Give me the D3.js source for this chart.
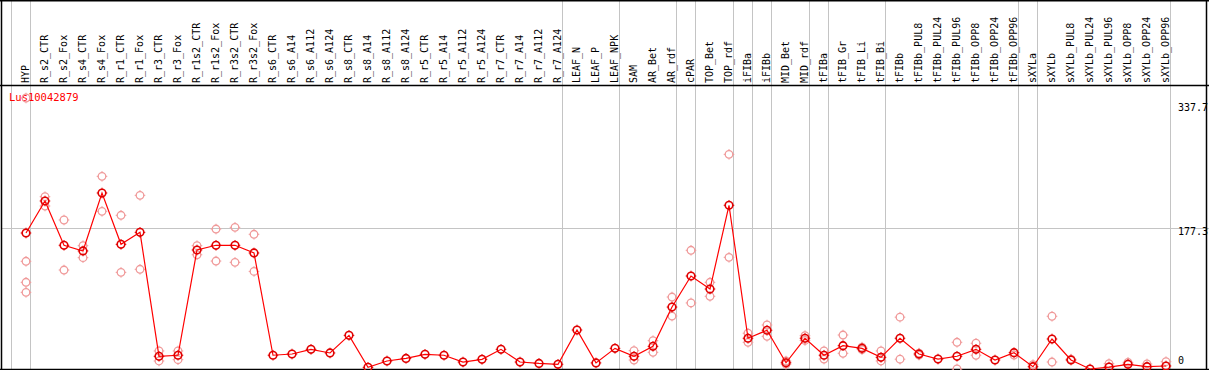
<!DOCTYPE html>
<html><head><meta charset="utf-8">
<script src="https://cdn.jsdelivr.net/npm/d3@7"></script>
<style>html,body{margin:0;padding:0;background:#fff;overflow:hidden}</style>
</head><body>
<svg id="c" width="1209" height="370"></svg>
<script>
const categories = ["HYP","R_s2_CTR","R_s2_Fox","R_s4_CTR","R_s4_Fox","R_r1_CTR","R_r1_Fox","R_r3_CTR","R_r3_Fox","R_r1s2_CTR","R_r1s2_Fox","R_r3s2_CTR","R_r3s2_Fox","R_s6_CTR","R_s6_A14","R_s6_A112","R_s6_A124","R_s8_CTR","R_s8_A14","R_s8_A112","R_s8_A124","R_r5_CTR","R_r5_A14","R_r5_A112","R_r5_A124","R_r7_CTR","R_r7_A14","R_r7_A112","R_r7_A124","LEAF_N","LEAF_P","LEAF_NPK","SAM","AR_Bet","AR_rdf","cPAR","TOP_Bet","TOP_rdf","iFIBa","iFIBb","MID_Bet","MID_rdf","tFIBa","tFIB_Gr","tFIB_Li","tFIB_Bi","tFIBb","tFIBb_PUL8","tFIBb_PUL24","tFIBb_PUL96","tFIBb_OPP8","tFIBb_OPP24","tFIBb_OPP96","sXYLa","sXYLb","sXYLb_PUL8","sXYLb_PUL24","sXYLb_PUL96","sXYLb_OPP8","sXYLb_OPP24","sXYLb_OPP96"];
const means = [170.7,210.3,155.5,148.5,220.2,156.7,171.5,18.2,19.5,149.7,155.5,155.5,146.0,19.5,21.0,26.8,22.3,44.1,4.5,12.4,15.6,20.6,19.5,11.1,14.4,26.8,11.1,9.4,8.3,50.7,10.0,28.0,18.2,30.5,79.1,117.5,101.4,205.0,40.5,50.4,10.2,40.5,19.5,31.3,28.0,16.9,40.5,21.0,14.8,18.2,26.8,13.6,22.7,5.3,39.6,13.6,2.5,4.9,8.3,5.3,6.2];
const replicates = [[337.7,135.7,109.7,97.3],[215.6,204.1],[186.8,124.9],[155.0,140.2],[240.8,197.5],[192.6,122.0],[217.3,125.8],[24.8,12.4],[24.8,14.0],[155.0,143.8],[175.6,136.0],[177.7,134.4],[169.1,123.2],[],[],[],[],[],[],[],[],[],[],[],[],[],[],[],[],[],[],[],[25.2,13.6],[37.5,23.1],[91.5,68.0],[149.3,84.2],[109.7,92.4],[268.0,140.6],[46.7,35.5],[56.9,42.9],[12.3,8.4],[43.7,37.8],[24.8,14.8],[44.5,21.9],[29.5,26.5],[24.8,12.4],[66.6,14.6],[22.1,19.7],[],[35.5,2.5],[34.3,19.5],[],[19.8],[7.9],[67.7,11.1],[14.7],[],[9.0],[10.7],[8.7],[11.5]];
const separatorsAfter = [-1,0,28,31,34,35,37,38,39,41,42,45,52,53,60];
const yTicks = [337.7,177.3,0];
const gridValues = [177.3];
const geneId = "Lus10042879";

const W = 1209, H = 370;
const svg = d3.select("#c");
const mono = "'DejaVu Sans Mono', 'Liberation Mono', monospace";
const x = d3.scalePoint().domain(categories).range([26, 1166]);
const step = x.step();
const y = d3.scaleLinear().domain([0, 337.7]).range([371, 98]);
const xi = i => i < 0 ? x(categories[0]) + i*step : x(categories[i]);

// gridlines
svg.append("g").selectAll("line").data(gridValues).join("line")
  .attr("x1", 1).attr("x2", W).attr("y1", d => Math.round(y(d)) + 0.5).attr("y2", d => Math.round(y(d)) + 0.5)
  .attr("stroke", "#c4c4c4").attr("stroke-width", 1);
svg.append("g").selectAll("line").data(separatorsAfter).join("line")
  .attr("x1", d => xi(d) + 4.5).attr("x2", d => xi(d) + 4.5).attr("y1", 0).attr("y2", H)
  .attr("stroke", "#c4c4c4").attr("stroke-width", 1);

// header labels
svg.append("g").selectAll("text").data(categories).join("text")
  .attr("transform", d => `translate(${x(d)+3},83) rotate(-90)`)
  .attr("font-family", mono).attr("font-size", 10).attr("fill", "#000")
  .text(d => d);

// borders
const b = svg.append("g").attr("stroke", "#000").attr("stroke-width", 1.5);
b.append("line").attr("x1", 0).attr("x2", W).attr("y1", 0.75).attr("y2", 0.75);
b.append("line").attr("x1", 0).attr("x2", W).attr("y1", 85.5).attr("y2", 85.5);
b.append("line").attr("x1", 1.5).attr("x2", 1.5).attr("y1", 0).attr("y2", H);
b.append("line").attr("x1", 1206.5).attr("x2", 1206.5).attr("y1", 0).attr("y2", H);
b.append("line").attr("x1", 0).attr("x2", W).attr("y1", 369.5).attr("y2", 369.5);

// gene id label
svg.append("text").attr("x", 9).attr("y", 101).attr("font-family", mono).attr("font-size", 10.5)
  .attr("fill", "#ff0000").text(geneId);

// y tick labels
svg.append("g").selectAll("text").data(yTicks).join("text")
  .attr("x", 1178).attr("y", d => Math.min(Math.max(y(d), 104), 357))
  .attr("dominant-baseline", "hanging")
  .attr("font-family", mono).attr("font-size", 10).attr("fill", "#000")
  .text(d => d === 0 ? "0" : d.toFixed(1));

const plot = svg.append("g");
function marker(g, cx, cy, color, sw) {
  g.append("circle").attr("cx", cx).attr("cy", cy).attr("r", 3.8)
    .attr("fill", "none").attr("stroke", color).attr("stroke-width", sw);
  const t = [[0,-1],[0,1],[-1,0],[1,0]];
  t.forEach(([dx,dy]) => g.append("line")
    .attr("x1", cx + dx*3.8).attr("y1", cy + dy*3.8)
    .attr("x2", cx + dx*5.3).attr("y2", cy + dy*5.3)
    .attr("stroke", color).attr("stroke-width", 1));
}
// replicates
const repG = plot.append("g");
categories.forEach((c, i) => replicates[i].forEach(v => marker(repG, x(c), y(v), "#f09a9a", 1.3)));
// mean line
plot.append("path").datum(means)
  .attr("d", d3.line().x((d,i) => x(categories[i])).y(d => y(d)))
  .attr("fill", "none").attr("stroke", "#ff0000").attr("stroke-width", 1.2);
const meanG = plot.append("g");
categories.forEach((c, i) => marker(meanG, x(c), y(means[i]), "#e00000", 1.6));
</script>
</body></html>
